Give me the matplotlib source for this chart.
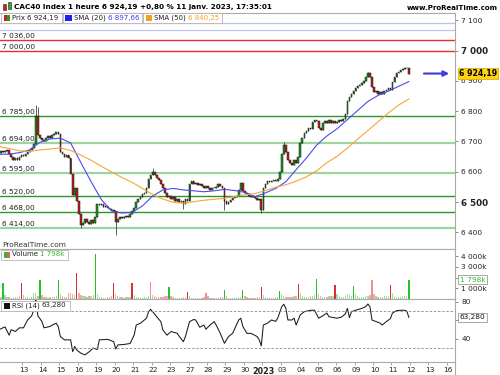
import numpy as np
import matplotlib
matplotlib.use("Agg")
import matplotlib.pyplot as plt
from matplotlib.transforms import ScaledTranslation, blended_transform_factory
from matplotlib.patches import Rectangle
from matplotlib.lines import Line2D
from matplotlib.text import Annotation

plt.rcParams["font.family"] = ["DejaVu Sans"]

# ---------------- Données : CAC40, bougies 1 heure (9 par séance) ----------------
day_labels = ["13", "14", "15", "16", "19", "20", "21", "22", "23", "27", "28", "29", "30",
              "2023", "03", "04", "05", "06", "09", "10", "11", "12", "13", "16"]

open_first = 6655
closes = [
    6662, 6670, 6664,                                          # 9 déc (fin)
    6668, 6672, 6658, 6648, 6640, 6645, 6638, 6650, 6655,      # 12 déc
    6652, 6658, 6665, 6672, 6680, 6692, 6785, 6722, 6710,      # 13
    6705, 6700, 6712, 6718, 6710, 6722, 6725, 6730, 6725,      # 14
    6665, 6658, 6650, 6655, 6645, 6592, 6522, 6548, 6505,      # 15
    6462, 6425, 6430, 6445, 6435, 6428, 6440, 6432, 6450,      # 16
    6495, 6490, 6492, 6485, 6488, 6480, 6478, 6475, 6470,      # 19
    6435, 6445, 6450, 6448, 6452, 6455, 6452, 6460, 6470,      # 20
    6480, 6500, 6510, 6518, 6525, 6530, 6545, 6575, 6590,      # 21
    6600, 6588, 6580, 6572, 6560, 6548, 6530, 6515, 6520,      # 22
    6510, 6515, 6505, 6510, 6500, 6502, 6495, 6510, 6505,      # 23
    6560, 6568, 6558, 6562, 6555, 6560, 6552, 6548, 6552,      # 27
    6545, 6540, 6548, 6545, 6550, 6560, 6552, 6545, 6505,      # 28
    6495, 6500, 6508, 6512, 6515, 6520, 6540, 6562, 6535,      # 29
    6530, 6525, 6520, 6515, 6518, 6512, 6508, 6510, 6475,      # 30
    6545, 6560, 6568, 6565, 6570, 6572, 6568, 6575, 6600,      # 2 janv
    6660, 6688, 6665, 6640, 6630, 6622, 6640, 6628, 6650,      # 3
    6695, 6712, 6728, 6735, 6745, 6742, 6765, 6772, 6768,      # 4
    6745, 6738, 6760, 6768, 6762, 6770, 6762, 6768, 6760,      # 5
    6765, 6772, 6768, 6775, 6790, 6832, 6848, 6858, 6865,      # 6
    6875, 6882, 6885, 6893, 6900, 6912, 6925, 6912, 6880,      # 9
    6862, 6865, 6858, 6862, 6858, 6865, 6870, 6875, 6869,      # 10
    6895, 6912, 6925, 6930, 6935, 6938, 6942, 6944, 6924.19,   # 11
]
# mèches visibles (index de bougie -> extrême)
high_ext = {18: 6820, 19: 6813, 75: 6612, 139: 6697, 180: 6930}
low_ext = {40: 6415, 57: 6390, 90: 6478, 110: 6474, 128: 6465}

# volumes (milliers)
volumes = [
    150, 200, 1470,
    420, 200, 150, 130, 120, 180, 220, 260, 1470,
    380, 180, 150, 140, 170, 560, 520, 300, 1780,
    400, 200, 160, 140, 150, 180, 200, 250, 1750,
    450, 260, 200, 180, 560, 560, 450, 400, 2460,
    600, 400, 300, 250, 220, 260, 300, 350, 4200,
    450, 220, 160, 140, 130, 150, 200, 250, 1470,
    500, 250, 180, 150, 140, 160, 200, 230, 1470,
    380, 200, 150, 130, 130, 150, 200, 300, 1620,
    420, 250, 200, 170, 180, 220, 260, 280, 1150,
    300, 150, 120, 100, 90, 110, 150, 180, 680,
    280, 140, 110, 100, 90, 100, 140, 170, 590,
    250, 130, 100, 90, 80, 110, 150, 180, 840,
    260, 140, 110, 100, 100, 130, 170, 190, 840,
    280, 150, 120, 110, 110, 130, 160, 200, 1150,
    350, 180, 140, 120, 110, 130, 160, 200, 780,
    500, 280, 200, 170, 180, 220, 260, 300, 1400,
    550, 300, 220, 200, 220, 300, 320, 350, 1870,
    480, 260, 200, 180, 200, 300, 280, 300, 1310,
    450, 250, 200, 180, 250, 450, 350, 320, 1250,
    500, 280, 200, 180, 200, 300, 320, 330, 1780,
    480, 260, 200, 180, 190, 250, 280, 300, 1310,
    520, 300, 220, 200, 220, 280, 300, 320, 1798,
]
# couleur des barres de clôture (G vert, R rouge, r rose)
close_bar_colors = ["G", "R", "G", "G", "R", "G", "R", "R", "r", "G", "R", "r",
                    "G", "G", "R", "G", "R", "G", "R", "G", "r", "R", "G"]

# moyennes mobiles relevées toutes les 5 bougies
sma_idx = list(range(0, 201, 5))
sma20 = [6658, 6658, 6663, 6672, 6697, 6708, 6711, 6695, 6630, 6567,
         6508, 6470, 6464, 6466, 6487, 6520, 6540, 6545, 6540, 6537,
         6534, 6537, 6542, 6538, 6532, 6518, 6530, 6545, 6567, 6607,
         6645, 6688, 6718, 6742, 6772, 6802, 6832, 6852, 6866, 6882, 6897.66]
sma50 = [6683, 6677, 6669, 6667, 6672, 6675, 6679, 6670, 6655, 6638,
         6618, 6599, 6581, 6565, 6545, 6525, 6510, 6499, 6496, 6501,
         6506, 6509, 6512, 6518, 6524, 6528, 6538, 6549, 6557, 6569,
         6583, 6603, 6630, 6651, 6678, 6708, 6736, 6765, 6794, 6820, 6840.25]

# RSI(14)
rsi_idx = [0, 3, 5, 6, 8, 10, 12, 14, 16, 17, 18, 19, 20, 21, 22, 25, 26, 28, 29, 30,
           32, 35, 36, 37, 38, 40, 42, 44, 46, 48, 49, 53, 56, 57, 58, 61, 64, 66, 67, 69,
           70, 72, 73, 74, 75, 77, 79, 80, 82, 84, 87, 88, 90, 91, 93, 95, 96, 98, 100, 101,
           103, 105, 106, 108, 110, 112, 114, 117, 118, 119, 121, 123, 126, 127, 128, 129, 131, 133, 135, 136,
           138, 139, 140, 141, 143, 144, 145, 147, 149, 152, 154, 156, 158, 160, 161, 165, 167, 169, 170, 171,
           172, 174, 177, 179, 180, 181, 182, 184, 186, 187, 189, 191, 192, 194, 196, 198, 199, 200]
rsi_val = [50, 53, 44, 50, 48, 52, 52, 60.5, 65, 71, 84, 65, 62, 58.7, 52, 53.5, 55, 57, 53, 42.5,
           39, 39, 26.3, 31.7, 28, 24.5, 22.7, 26, 30, 28.5, 39, 39.5, 37, 29, 33.5, 34, 35, 44.3, 55, 57,
           58.7, 62.4, 69.5, 72, 69.5, 64, 58.7, 49.7, 44, 48, 46, 42.6, 37, 42.6, 58.7, 61, 60.5, 52.6, 55, 50.5,
           55, 58.7, 55, 46, 35.3, 42.5, 46, 60.5, 62.4, 53.5, 46, 46, 42.5, 39, 32.4, 55, 57, 60.5, 59, 62.4,
           75, 77.5, 73, 60.5, 60.5, 62.4, 55, 66, 69.5, 71, 71, 62.4, 65, 68, 64, 62.4, 63.5, 67, 73, 63,
           69.5, 71, 73, 75, 77.8, 75, 60.5, 58.7, 57, 55, 58.7, 62, 68, 70.6, 71, 71, 70, 63.28]

# niveaux horizontaux
green_levels = [6785, 6694, 6595, 6520, 6468, 6414]
green_dark = [True, False, False, True, True, False]
red_levels = [7036, 7000]
blue_levels = [7091, 7068]

last_price = 6924.19
last_volume = 1798
last_rsi = 63.28

# ---------------- Figure ----------------
W, H = 500, 375
fig = plt.figure(figsize=(W / 100, H / 100), dpi=100)


def fx(px):
    return px / W


def fy(py):
    return 1 - py / H


def fr(v, dec=2):
    return f"{v:,.{dec}f}".replace(",", " ").replace(".", ",")


ax = fig.add_axes([0, fy(249), fx(455), fy(13) - fy(249)])
axv = fig.add_axes([0, fy(299), fx(455), fy(249) - fy(299)], sharex=ax)
axr = fig.add_axes([0, fy(362), fx(455), fy(299) - fy(362)], sharex=ax)

closes = np.array(closes, dtype=float)
n = len(closes)
idx = np.arange(n)
opens = np.r_[open_first, closes[:-1]]
highs = np.maximum(opens, closes)
lows = np.minimum(opens, closes)
for i, v in high_ext.items():
    highs[i] = v
for i, v in low_ext.items():
    lows[i] = v
up = closes >= opens

# chandeliers
ax.vlines(idx, lows, highs, color="#444444", lw=0.6, zorder=3)
ax.bar(idx, np.maximum(np.abs(closes - opens), 1.5), bottom=np.minimum(opens, closes),
       width=0.8, color=np.where(up, "#1f9a1f", "#c42020"), edgecolor="#111111",
       linewidth=0.35, zorder=4)

ax.plot(sma_idx, sma20, color="#4a4af0", lw=0.8, zorder=5)
ax.plot(sma_idx, sma50, color="#f5a637", lw=0.8, zorder=5)

bt = blended_transform_factory(ax.transAxes, ax.transData)
for v, dark in zip(green_levels, green_dark):
    ax.axhline(v, color="#2f962f" if dark else "#9fd49f", lw=1.0 if dark else 1.6, zorder=2)
    ax.text(2 / 455, v + 3, fr(v), transform=bt, fontsize=5.3, va="bottom", ha="left",
            color="#222222", zorder=6)
for v in red_levels:
    ax.axhline(v, color="#e03030", lw=1.0, zorder=2)
    ax.text(2 / 455, v + 3, fr(v), transform=bt, fontsize=5.3, va="bottom", ha="left",
            color="#222222", zorder=6)
for v in blue_levels:
    ax.axhline(v, color="#b9c4ee", lw=0.9, zorder=2)

ax.set_xlim(0.54, 222.5)
ax.set_ylim(6345, 7124)
ax.yaxis.tick_right()
price_ticks = list(range(6400, 7101, 100))
ax.set_yticks(price_ticks)
ax.set_yticklabels([fr(v, 0) for v in price_ticks])
ax.text(2 / 455, 0.005, "ProRealTime.com", transform=ax.transAxes, fontsize=5.3, color="#333333",
        va="bottom", ha="left", zorder=6)

# étiquette du dernier cours + flèche
ax.annotate("", xy=(221, last_price), xytext=(206, last_price),
            arrowprops=dict(arrowstyle="-|>", color="#3c3cd8", lw=1.5, mutation_scale=8), zorder=7)
ax.text(1.008, last_price, fr(last_price), transform=bt, fontsize=5.6, fontweight="bold",
        va="center", ha="left", clip_on=False, zorder=8,
        bbox=dict(boxstyle="square,pad=0.12", fc="#ffd21a", ec="#e0b000", lw=0.6))

# volumes
vol = np.array(volumes, dtype=float)
vcols = np.where(up, "#9ee09e", "#f3a9a9").astype(object)
strong = {"G": "#22c422", "R": "#d83030", "r": "#ef8f8f"}
for k, c in enumerate(close_bar_colors):
    vcols[2 + 9 * k] = strong[c]
axv.bar(idx, vol, width=0.65, color=list(vcols), linewidth=0)
axv.set_ylim(0, 4670)
axv.yaxis.tick_right()
axv.set_yticks([1000, 2000, 3000, 4000])
axv.set_yticklabels(["1 000k", "", "3 000k", "4 000k"])
axv.text(1.01, last_volume, fr(last_volume, 0) + "k",
         transform=blended_transform_factory(axv.transAxes, axv.transData),
         fontsize=5.3, color="#33bb33", va="center", ha="left", clip_on=False, zorder=8,
         bbox=dict(boxstyle="square,pad=0.2", fc="white", ec="#999999", lw=0.6))

# RSI
axr.plot(rsi_idx, rsi_val, color="#1a1a1a", lw=0.75)
for v in (70, 30):
    axr.axhline(v, color="#8a8a8a", lw=0.6, ls=(0, (3, 2)))
axr.set_ylim(15, 83.2)
axr.yaxis.tick_right()
axr.set_yticks([40, 60, 80])
axr.set_yticklabels(["40", "", "80"])
axr.text(1.01, last_rsi, fr(last_rsi, 3), transform=blended_transform_factory(axr.transAxes, axr.transData),
         fontsize=5.3, color="#111111", va="center", ha="left", clip_on=False, zorder=8,
         bbox=dict(boxstyle="square,pad=0.2", fc="white", ec="#999999", lw=0.6))

# axe des dates
day_starts = [2.5 + 9 * d for d in range(1, len(day_labels) + 1)]
axr.set_xticks(day_starts)
axr.set_xticklabels(day_labels)

for a in (ax, axv, axr):
    for side in ("top", "right", "bottom"):
        a.spines[side].set_color("#aaaaaa")
        a.spines[side].set_linewidth(0.8)
    a.spines["left"].set_visible(False)
    a.tick_params(axis="y", which="both", length=2.5, width=0.6, color="#777777", pad=2,
                  labelsize=5.3, labelcolor="#222222")
    a.tick_params(axis="x", length=2, width=0.6, color="#999999", pad=1.5, labelsize=5.3,
                  labelcolor="#222222")
    a.set_facecolor("white")
ax.tick_params(axis="x", bottom=False, labelbottom=False)
axv.tick_params(axis="x", bottom=False, labelbottom=False)

for lab, v in zip(ax.get_yticklabels(), price_ticks):
    if v in (6500, 7000):
        lab.set_fontweight("bold")
        lab.set_fontsize(6.3)
for lab, t in zip(axr.get_xticklabels(), day_labels):
    lab.set_transform(lab.get_transform() + ScaledTranslation(1.5 / 100, 0, fig.dpi_scale_trans))
    if t == "2023":
        lab.set_fontweight("bold")
        lab.set_fontsize(5.8)

fig.add_artist(Line2D([0, fx(455)], [fy(374.5), fy(374.5)], color="#aaaaaa", lw=0.8))
fig.add_artist(Line2D([fx(455), fx(455)], [fy(362), fy(375)], color="#aaaaaa", lw=0.8))

# en-tête
fig.text(fx(14), fy(6.5), "CAC40 Index 1 heure 6 924,19 +0,80 % 11 janv. 2023, 17:35:01",
         fontsize=5.2, fontweight="bold", va="center", ha="left")
fig.text(fx(498), fy(7.5), "www.ProRealTime.com", fontsize=5.0, fontweight="bold",
         va="center", ha="right")
for (x0, y0, w, h, c) in [(3, 4, 3, 6, "#d02020"), (7.5, 2, 3.5, 7, "#22b022")]:
    fig.add_artist(Rectangle((fx(x0), fy(y0 + h)), w / W, h / H, transform=fig.transFigure,
                             fc=c, ec="#222222", lw=0.4))


def legend_texts(x0, yc, pieces):
    first = fig.text(fx(x0 + 11), fy(yc), pieces[0][0], color=pieces[0][1], fontsize=5.0,
                     va="center", ha="left", zorder=6)
    arts = [first]
    prev = first
    for t, c in pieces[1:]:
        a = Annotation(t, xy=(1, 0.5), xycoords=prev, va="center", ha="left", fontsize=5.0,
                       color=c, zorder=6)
        fig.add_artist(a)
        arts.append(a)
        prev = a
    return arts


def icon(x0, ytop, cols):
    if len(cols) == 2:
        for k, c in enumerate(cols):
            fig.add_artist(Rectangle((fx(x0 + 2.5 + 3 * k), fy(ytop + 8)), 3 / W, 6.5 / H,
                                     transform=fig.transFigure, fc=c, ec="none", zorder=7))
    else:
        fig.add_artist(Rectangle((fx(x0 + 2.5), fy(ytop + 8)), 6.5 / W, 6.5 / H,
                                 transform=fig.transFigure, fc=cols[0], ec="none", zorder=7))


groups = [
    ([("Prix ", "#222222"), ("6 924,19", "#222222")], ["#d02020", "#22a022"]),
    ([("SMA (20) ", "#222222"), ("6 897,66", "#3c3cf0")], ["#2020f0"]),
    ([("SMA (50) ", "#222222"), ("6 840,25", "#f5a020")], ["#f5a020"]),
]
fig.canvas.draw()
renderer = fig.canvas.get_renderer()
x_cur = 1
for pieces, cols in groups:
    arts = legend_texts(x_cur, 17.8, pieces)
    fig.canvas.draw()
    x_end = arts[-1].get_window_extent(renderer).x1 + 3
    fig.add_artist(Rectangle((fx(x_cur), fy(22.5)), (x_end - x_cur) / W, 9.5 / H,
                             transform=fig.transFigure, fc="white", ec="#b5b5b5", lw=0.6, zorder=5))
    icon(x_cur, 13, cols)
    x_cur = x_end + 1

# légendes volume / RSI
for (yc, ytop, pieces, cols) in [(254.5, 250, [("Volume ", "#222222"), ("1 798k", "#33bb33")],
                                  ["#22c422", "#e06060"]),
                                 (305.5, 301, [("RSI (14) ", "#222222"), ("63,280", "#222222")],
                                  ["#111111"])]:
    arts = legend_texts(1, yc, pieces)
    fig.canvas.draw()
    x_end = arts[-1].get_window_extent(renderer).x1 + 3
    fig.add_artist(Rectangle((fx(1), fy(ytop + 9.5)), (x_end - 1) / W, 9.5 / H,
                             transform=fig.transFigure, fc="white", ec="#b5b5b5", lw=0.6, zorder=5))
    icon(1, ytop, cols)

fig.savefig("out.png", dpi=100)
